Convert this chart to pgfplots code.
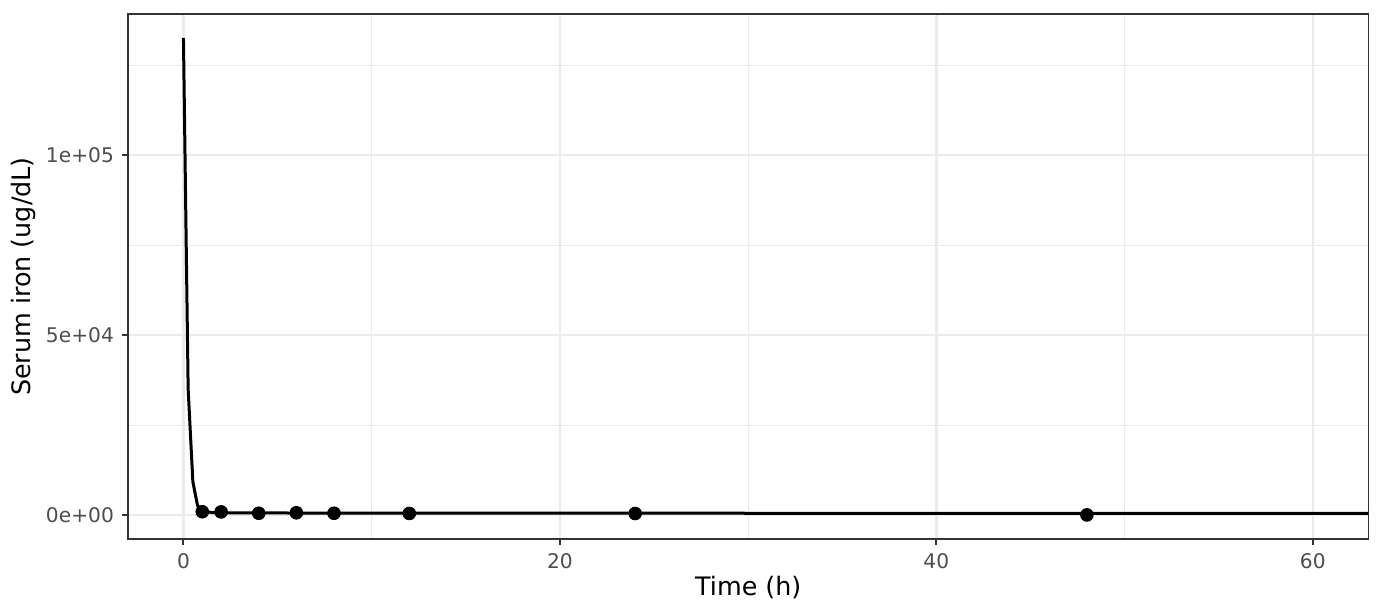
\documentclass[border=0pt]{standalone}
\usepackage{pgfplots}
\pgfplotsset{compat=1.18}
\usepackage{fontspec}
\setmainfont{DejaVu Sans}
\definecolor{gridc}{HTML}{EBEBEB}
\definecolor{gtwenty}{HTML}{333333}
\definecolor{gthirty}{HTML}{4D4D4D}
\begin{document}
\begin{tikzpicture}
\begin{axis}[
  scale only axis,
  width=620pt, height=262.5pt,
  xmin=-2.93, xmax=62.95,
  ymin=-6630, ymax=139250,
  xtick={0,20,40,60},
  xticklabels={0,20,40,60},
  minor xtick={10,30,50},
  ytick={0,50000,100000},
  yticklabels={0e+00,5e+04,1e+05},
  minor ytick={25000,75000,125000},
  scaled y ticks=false,
  /pgf/number format/assume math mode=true,
  grid=both,
  major grid style={color=gridc, line width=1.2pt},
  minor grid style={color=gridc, line width=0.6pt},
  tick align=outside,
  tick pos=left,
  major tick length=3pt,
  minor tick length=0pt,
  tick style={color=gtwenty, line width=1pt},
  axis line style={color=gtwenty, line width=0.8pt},
  xticklabel style={anchor=north, inner sep=0pt, yshift=-4pt, color=gthirty, font=\fontsize{10.1}{12}\selectfont},
  yticklabel style={anchor=east, inner sep=0pt, xshift=-4pt, color=gthirty, font=\fontsize{10.1}{12}\selectfont},
  xlabel={Time (h)},
  ylabel={Serum iron (ug/dL)},
  xlabel style={at={(rel axis cs:0.5,0)}, anchor=north, inner sep=0pt, yshift=-18.6pt, font=\fontsize{12.7}{15}\selectfont},
  ylabel style={at={(rel axis cs:0,0.5)}, anchor=center, inner sep=0pt, yshift=52.6pt, font=\fontsize{12.7}{15}\selectfont},
]
\addplot[black, line width=1.5pt, line join=round] coordinates {
 (0,132600) (0.25,35000) (0.5,9300) (0.75,2600) (1,1150) (1.5,720) (2,640)
 (3,610) (4,600) (6,590) (8,580) (12,565) (24,535) (48,485) (63,460)
};
\addplot[only marks, mark=*, mark size=3.2pt, black] coordinates {
 (1,950) (2,900) (4,520) (6,650) (8,520) (12,470) (24,450) (48,60)
};
\end{axis}
\pgfresetboundingbox
\path[use as bounding box] ([xshift=-64.15pt,yshift=-37.5pt]current axis.south west) rectangle ([xshift=6.85pt,yshift=7pt]current axis.north east);
\end{tikzpicture}
\end{document}
